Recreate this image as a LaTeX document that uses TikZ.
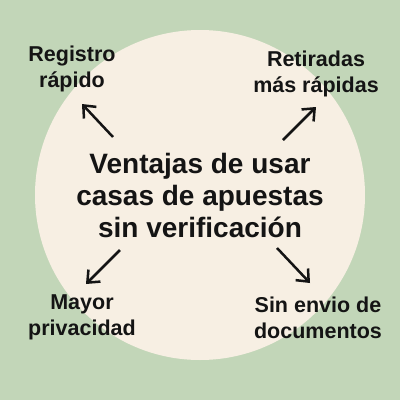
\documentclass[tikz,border=0pt]{standalone}
\usepackage{fontspec}
\setmainfont{Liberation Sans}
\usetikzlibrary{arrows.meta}
\definecolor{bg}{HTML}{C2D6B8}
\definecolor{disc}{HTML}{F7EFE3}
\definecolor{ink}{HTML}{141414}
\tikzset{
  lbl/.style={align=center, text=ink, font=\bfseries\fontsize{21.5}{26}\selectfont, inner sep=0pt},
  ttl/.style={align=center, text=ink, font=\bfseries\fontsize{28}{32}\selectfont, inner sep=0pt},
  arr/.style={draw=ink, line width=2.5pt, -{Straight Barb[length=10pt,width=17pt,line width=2.5pt]}}
}
\begin{document}
\begin{tikzpicture}[x=1pt,y=-1pt]
\fill[bg] (0,0) rectangle (400,400);
\useasboundingbox (0,0) rectangle (400,400);
\fill[disc] (200,195) circle (165);
\node[ttl] (t) at (200,195) {Ventajas de usar\\casas de apuestas\\sin verificación};
\node[lbl] (a) at (72,69) {Registro\\rápido};
\node[lbl] (b) at (316,74) {Retiradas\\más rápidas};
\node[lbl] (c) at (82,317) {Mayor\\privacidad};
\node[lbl] (d) at (318,318) {Sin envio de\\documentos};
\coordinate (at) at (113,137); \coordinate (ah) at (82,104);
\coordinate (bt) at (283,140); \coordinate (bh) at (316,107);
\coordinate (ct) at (120,250); \coordinate (ch) at (86,284);
\coordinate (dt) at (277,248); \coordinate (dh) at (310,283);
\draw[arr] (at) -- (ah);
\draw[arr] (bt) -- (bh);
\draw[arr] (ct) -- (ch);
\draw[arr] (dt) -- (dh);
\end{tikzpicture}
\end{document}
